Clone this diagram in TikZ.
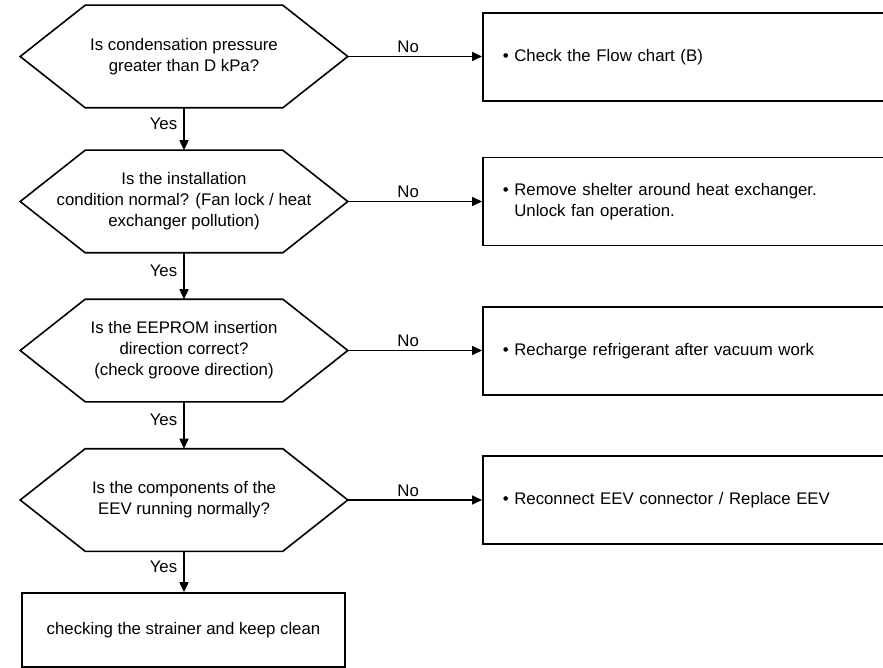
\documentclass[tikz,border=0pt]{standalone}
\usepackage{fontspec}
\setmainfont{Liberation Sans}
\usetikzlibrary{arrows.meta,calc}
\newcommand\hexoutline[1]{\draw (#1.west) -- ([xshift=65pt]#1.north west) -- ([xshift=-65pt]#1.north east) -- (#1.east) -- ([xshift=-65pt]#1.south east) -- ([xshift=65pt]#1.south west) -- cycle;}
\begin{document}
\begin{tikzpicture}[x=1pt,y=-1pt,
  line width=1.6pt,
  every node/.style={font=\fontsize{16.8}{21}\selectfont},
  hexq/.style={minimum width=326pt,minimum height=101pt,align=center,inner sep=0pt},
  actbox/.style={draw,anchor=west,minimum height=88pt,text width=380pt,inner xsep=20pt,align=left},
  flow/.style={-{Triangle[length=10pt,width=9pt]}},
  yeslbl/.style={inner sep=0pt,anchor=east,xshift=-6pt,pos=0.38},
  nolbl/.style={inner sep=0pt,anchor=south,yshift=3pt,pos=0.45}
]
\useasboundingbox (0,0) rectangle (883,668);
\clip (0,0) rectangle (883,668);

% decisions
\node[hexq] (q1) at (184,56.5) {Is condensation pressure\\greater than D kPa?};
\node[hexq] (q2) at (184,201.5) {Is the installation\\condition normal? (Fan lock / heat\\exchanger pollution)};
\node[hexq] (q3) at (184,350.5) {Is the EEPROM insertion\\direction correct?\\(check groove direction)};
\node[hexq] (q4) at (184,500) {Is the components of the\\EEV running normally?};
\hexoutline{q1}
\hexoutline{q2}
\hexoutline{q3}
\hexoutline{q4}

% actions
\node[actbox] (a1) at (482,57) {• Check the Flow chart (B)};
\node[actbox] (a2) at (482,201.5) {• Remove shelter around heat exchanger.\\\phantom{• }Unlock fan operation.};
\node[actbox] (a3) at (482,351) {• Recharge refrigerant after vacuum work};
\node[actbox] (a4) at (482,500) {• Reconnect EEV connector / Replace EEV};

\node[draw,minimum width=323pt,minimum height=74pt] (end) at (183.5,630) {checking the strainer and keep clean};

% yes flow
\draw[flow] (q1.south) -- node[yeslbl] {Yes} (q2.north);
\draw[flow] (q2.south) -- node[yeslbl] {Yes} (q3.north);
\draw[flow] (q3.south) -- node[yeslbl] {Yes} (q4.north);
\draw[flow] (q4.south) -- node[yeslbl] {Yes} (q4.south |- end.north);

% no flow
\draw[flow] (q1.east) -- node[nolbl] {No} (q1.east -| a1.west);
\draw[flow] (q2.east) -- node[nolbl] {No} (q2.east -| a2.west);
\draw[flow] (q3.east) -- node[nolbl] {No} (q3.east -| a3.west);
\draw[flow] (q4.east) -- node[nolbl] {No} (q4.east -| a4.west);
\end{tikzpicture}
\end{document}
